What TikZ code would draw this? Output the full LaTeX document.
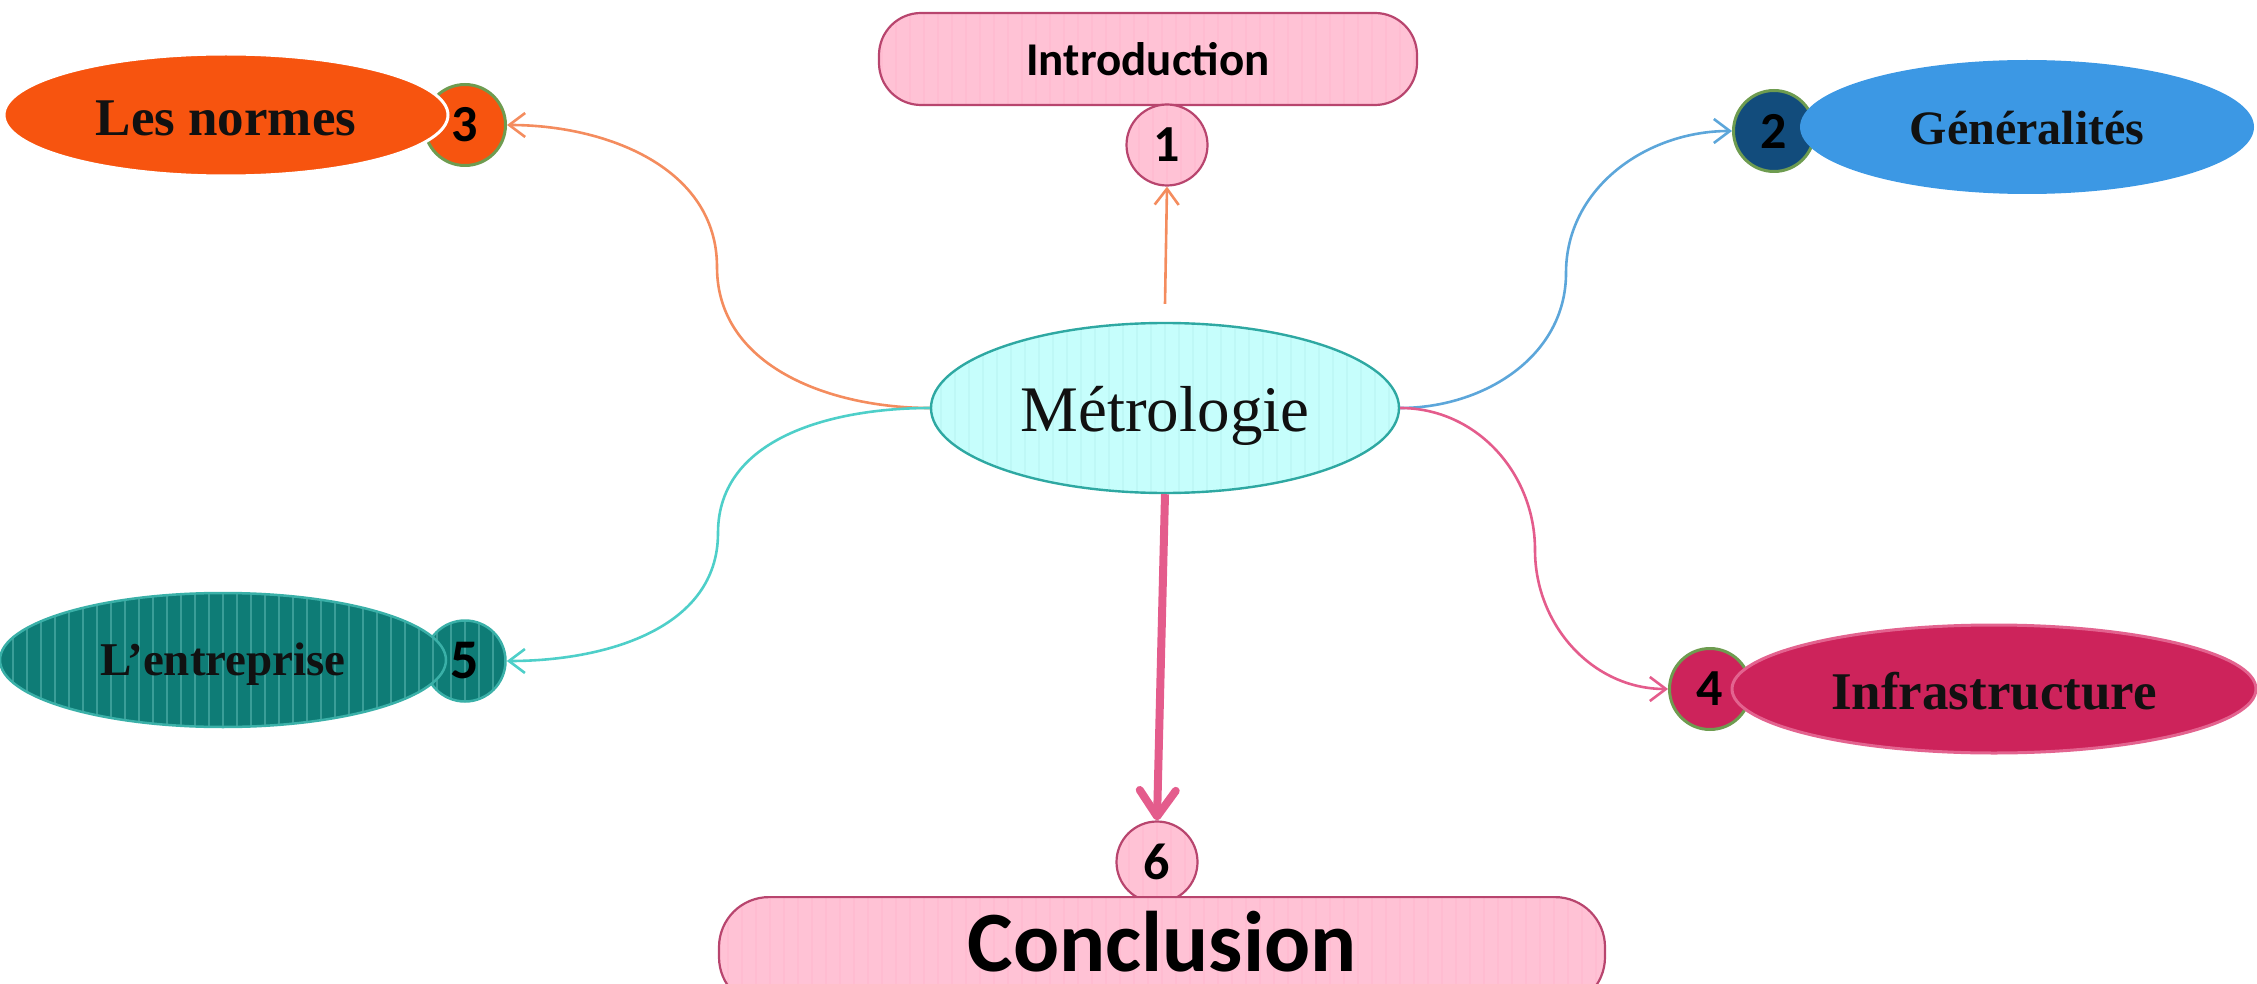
\documentclass[tikz,border=0pt]{standalone}
\usepackage{fontspec}
\setmainfont{Liberation Serif}
\newfontfamily\carl{Carlito}
\usetikzlibrary{shapes.geometric,arrows.meta}
\definecolor{pinkF}{HTML}{FFC2D5}
\definecolor{pinkS}{HTML}{FFBCD1}
\definecolor{pinkD}{HTML}{B8456E}
\definecolor{orangeF}{HTML}{F7540F}
\definecolor{greenB}{HTML}{6E9C50}
\definecolor{blueF}{HTML}{3C98E4}
\definecolor{navyF}{HTML}{124C7C}
\definecolor{crimF}{HTML}{CD235B}
\definecolor{crimB}{HTML}{E3638F}
\definecolor{tealF}{HTML}{0E7C76}
\definecolor{tealS}{HTML}{3A9E98}
\definecolor{tealB}{HTML}{3AB0A8}
\definecolor{cyanF}{HTML}{C6FEFC}
\definecolor{cyanS}{HTML}{BEF8F6}
\definecolor{cyanB}{HTML}{2EA8A2}
\definecolor{arrOrange}{HTML}{F48C5E}
\definecolor{arrBlue}{HTML}{5CA6DA}
\definecolor{arrPink}{HTML}{E45C8C}
\definecolor{arrTeal}{HTML}{4ECFC9}
\definecolor{txt}{HTML}{111111}
\tikzset{
  numc/.style={circle, minimum size=81pt, inner sep=0pt, text=black,
    font=\carl\bfseries\fontsize{52}{52}\selectfont},
  oval/.style={ellipse, inner sep=0pt, text=txt},
  timesb/.style={font=\bfseries\fontsize{#1}{#1}\selectfont},
  pillbox/.style={rectangle, rounded corners=42pt, fill=pinkF, draw=pinkD, line width=2.2pt, inner sep=0pt, stripes=pinkS},
  conn/.style={line width=2.6pt, -{Straight Barb[length=16pt,width=24pt]}},
  stripes/.style={path picture={\foreach \i in {-40,...,40}{\draw[#1, line width=2.5pt] ([xshift=\i*14pt]path picture bounding box.south) -- ([xshift=\i*14pt]path picture bounding box.north);}}}
}
\begin{document}
\begin{tikzpicture}[x=1pt,y=1pt]
\useasboundingbox (0,0) rectangle (2257,-984);
\clip (0,0) rectangle (2257,-984);
% centre
\node[oval, minimum width=468pt, minimum height=170pt, fill=cyanF, draw=cyanB, line width=2.4pt, stripes=cyanS,
  text height=60pt, text depth=14pt, font=\fontsize{65}{65}\selectfont] (metro) at (1165,-408) {Métrologie};
% introduction
\node[pillbox, minimum width=538pt, minimum height=92pt, font=\carl\bfseries\fontsize{47}{47}\selectfont] (intro) at (1148,-59) {Introduction};
\node[numc, fill=pinkF, draw=pinkD, line width=2.2pt, stripes=pinkS] (c1) at (1167,-145) {1};
% les normes
\node[numc, fill=orangeF, draw=greenB, line width=3pt] (c3) at (465,-125) {3};
\node[oval, timesb=53, text height=42pt, text depth=0pt, minimum width=444pt, minimum height=122pt, fill=orangeF, draw=white, line width=3pt] (normes) at (226,-115) {Les normes};
% generalites
\node[numc, fill=navyF, draw=greenB, line width=3pt] (c2) at (1774,-131) {2};
\node[oval, timesb=48, text height=36pt, text depth=0pt, minimum width=454pt, minimum height=134pt, fill=blueF] (gen) at (2027,-127) {Généralités};
% infrastructure
\node[numc, fill=crimF, draw=greenB, line width=3pt] (c4) at (1710,-689) {4};
\node[oval, timesb=53, text height=40pt, text depth=0pt, minimum width=524pt, minimum height=128pt, fill=crimF, draw=crimB, line width=3pt] (infra) at (1994,-689) {Infrastructure};
% entreprise
\node[numc, fill=tealF, draw=tealB, line width=2.5pt, stripes=tealS, font=\carl\bfseries\fontsize{56}{56}\selectfont] (c5) at (465,-661) {5};
\node[oval, timesb=47, text height=40pt, text depth=10pt, minimum width=446pt, minimum height=134pt, fill=tealF, draw=tealB, line width=2.5pt, stripes=tealS] (entre) at (223,-660) {L’entreprise};
% conclusion
\node[numc, fill=pinkF, draw=pinkD, line width=2.2pt, stripes=pinkS] (c6) at (1157,-862) {6};
\node[pillbox, minimum width=886pt, minimum height=110pt, rounded corners=50pt, anchor=north] (concl) at (1162,-896) {};
\node[font=\carl\bfseries\fontsize{86}{86}\selectfont, anchor=base, inner sep=0pt] (conclt) at (1162,-971) {Conclusion};
% connectors
\coordinate (m3) at (717,-267);
\coordinate (m2) at (1566,-273);
\coordinate (m4) at (1535,-550);
\coordinate (m5) at (718,-533);
\draw[conn, arrOrange] ([yshift=18pt]metro.north) -- (c1.south);
\draw[conn, arrOrange] (metro.west) to[out=180,in=-90] (m3) to[out=90,in=0] (c3.east);
\draw[conn, arrBlue] (metro.east) to[out=0,in=-90] (m2) to[out=90,in=180] (c2.west);
\draw[conn, arrPink] (metro.east) to[out=0,in=90] (m4) to[out=-90,in=180] (c4.west);
\draw[conn, arrTeal] (metro.west) to[out=180,in=90] (m5) to[out=-90,in=0] (c5.east);
\draw[arrPink, line width=8pt, -{Straight Barb[length=26pt,width=36pt,round]}] (metro.south) -- (c6.north);
\end{tikzpicture}
\end{document}
